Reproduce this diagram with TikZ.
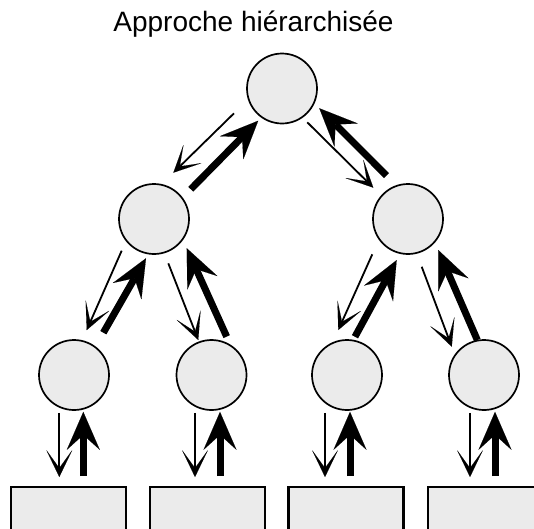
\documentclass[tikz,border=0pt]{standalone}
\usepackage{fontspec}
\setmainfont{Liberation Sans}
\usetikzlibrary{arrows.meta,calc}
\definecolor{nodefill}{HTML}{EBEBEB}
\tikzset{
  agent/.style={circle, draw, line width=1.7pt, fill=nodefill,
    minimum size=70pt, inner sep=0pt},
  unit/.style={rectangle, draw, line width=2.6pt, fill=nodefill,
    minimum width=115pt, minimum height=70pt, inner sep=0pt, anchor=north},
  request/.style={line width=1.8pt,
    -{Stealth[length=27pt,width=26pt,inset=18pt,line width=0.1pt]}},
  report/.style={line width=7pt,
    -{Stealth[length=38pt,width=33pt,inset=15pt,line width=0.1pt]}},
}
\begin{document}
\begin{tikzpicture}[x=1pt,y=-1pt]
  \clip (0,0) rectangle (534,528);

  % title
  \node[anchor=base, font=\fontsize{28}{32}\selectfont] (title) at (253.5,31)
    {Approche hiérarchisée};

  % hierarchy of agents
  \node[agent] (root) at (282,88.5) {};
  \node[agent] (L) at (154,219) {};
  \node[agent] (R) at (408,219) {};
  \node[agent] (c1) at (74,375) {};
  \node[agent] (c2) at (211.5,375) {};
  \node[agent] (c3) at (347,375) {};
  \node[agent] (c4) at (484,375) {};

  % controlled units at the bottom
  \node[unit] (r1) at (68.5,485.5) {};
  \node[unit] (r2) at (207.5,485.5) {};
  \node[unit] (r3) at (346,485.5) {};
  \node[unit] (r4) at (485.5,485.5) {};

  % root <-> left
  \draw[request] ($(root)!0.281!(L)!-16.9pt!90:(L)$) -- ($(root)!0.745!(L)!-18.6pt!90:(L)$);
  \draw[report]  ($(root)!0.743!(L)!5.4pt!90:(L)$)   -- ($(root)!0.217!(L)!5.6pt!90:(L)$);
  % root <-> right
  \draw[request] ($(root)!0.231!(R)!-5.3pt!90:(R)$)  -- ($(root)!0.743!(R)!-3.2pt!90:(R)$);
  \draw[report]  ($(root)!0.746!(R)!14.7pt!90:(R)$)  -- ($(root)!0.221!(R)!13.1pt!90:(R)$);

  % left <-> c1, c2
  \draw[request] ($(L)!0.245!(c1)!-14.3pt!90:(c1)$) -- ($(L)!0.739!(c1)!-9.2pt!90:(c1)$);
  \draw[report]  ($(L)!0.709!(c1)!6.8pt!90:(c1)$)   -- ($(L)!0.22!(c1)!10.8pt!90:(c1)$);
  \draw[request] ($(L)!0.28!(c2)!-1.9pt!90:(c2)$)   -- ($(L)!0.775!(c2)!-0.3pt!90:(c2)$);
  \draw[report]  ($(L)!0.815!(c2)!27.5pt!90:(c2)$)  -- ($(L)!0.233!(c2)!20.6pt!90:(c2)$);

  % right <-> c3, c4
  \draw[request] ($(R)!0.274!(c3)!-20.4pt!90:(c3)$) -- ($(R)!0.769!(c3)!-24.5pt!90:(c3)$);
  \draw[report]  ($(R)!0.77!(c3)!-6.5pt!90:(c3)$)   -- ($(R)!0.253!(c3)!4.4pt!90:(c3)$);
  \draw[request] ($(R)!0.282!(c4)!-8.6pt!90:(c4)$)  -- ($(R)!0.772!(c4)!-16.6pt!90:(c4)$);
  \draw[report]  ($(R)!0.802!(c4)!9.3pt!90:(c4)$)   -- ($(R)!0.237!(c4)!13.6pt!90:(c4)$);

  % agents <-> units
  \draw[request] ($(c1.south)+(-14.7pt,-2pt)$) -- ($(c1 |- r1.north)+(-14.7pt,8.5pt)$);
  \draw[report]  ($(c1 |- r1.north)+(9.3pt,9.5pt)$) -- ($(c1.south)+(9.3pt,-1pt)$);
  \draw[request] ($(c2.south)+(-16.5pt,-2pt)$) -- ($(c2 |- r2.north)+(-16.5pt,8.5pt)$);
  \draw[report]  ($(c2 |- r2.north)+(8.5pt,9.5pt)$) -- ($(c2.south)+(8.5pt,-1pt)$);
  \draw[request] ($(c3.south)+(-22pt,-2pt)$) -- ($(c3 |- r3.north)+(-22pt,8.5pt)$);
  \draw[report]  ($(c3 |- r3.north)+(3pt,9.5pt)$) -- ($(c3.south)+(3pt,-1pt)$);
  \draw[request] ($(c4.south)+(-14pt,-2pt)$) -- ($(c4 |- r4.north)+(-14pt,8.5pt)$);
  \draw[report]  ($(c4 |- r4.north)+(11pt,9.5pt)$) -- ($(c4.south)+(11pt,-1pt)$);
\end{tikzpicture}
\end{document}
